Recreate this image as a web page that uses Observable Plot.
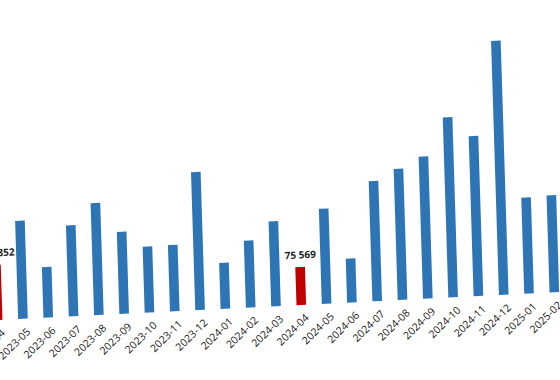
<!DOCTYPE html>
<html><head><meta charset="utf-8">
<script src="https://cdn.jsdelivr.net/npm/d3@7"></script>
<script src="https://cdn.jsdelivr.net/npm/@observablehq/plot@0.6"></script>
<style>
html,body{margin:0;padding:0;background:#fff;overflow:hidden;width:560px;height:380px;}
#wrap{position:absolute;left:-14.65px;top:0;width:582px;height:380px;transform-origin:294.65px 306px;transform:matrix(1,-0.05,0.031,1,0,0);}
#wrap svg{max-width:none !important;}
</style></head><body><div id="wrap"></div>
<script>
const months = ["2023-04","2023-05","2023-06","2023-07","2023-08","2023-09","2023-10","2023-11","2023-12",
  "2024-01","2024-02","2024-03","2024-04","2024-05","2024-06","2024-07","2024-08","2024-09","2024-10","2024-11","2024-12",
  "2025-01","2025-02"];
const values = [109852,194900,100400,181000,222800,163100,131300,132000,274500,
  91500,133300,169100,75569,189000,87500,238700,260600,282400,358000,318200,505200,
  191000,193000];
const highlighted = ["2023-04","2024-04"];

const data = months.map((m, i) => ({month: m, value: values[i], hi: highlighted.includes(m)}));
const fmt = v => d3.format(",")(v).replace(/,/g, " ");

const chart = Plot.plot({
  width: 582, height: 380,
  marginLeft: 0, marginRight: 0, marginTop: 0, marginBottom: 74,
  style: {fontFamily: "'Open Sans', 'Liberation Sans', Arial, sans-serif", background: "transparent", maxWidth: "none"},
  x: {domain: months, paddingInner: 0.62, paddingOuter: 0.31, round: false, axis: null},
  y: {domain: [0, 500000], range: [306, 306 - 251.4], axis: null},
  marks: [
    Plot.barY(data, {x: "month", y: "value", fill: d => d.hi ? "#c00000" : "#2e75b6"}),
    Plot.text(data.filter(d => d.hi), {x: "month", y: "value", text: d => fmt(d.value),
      dy: -9, lineAnchor: "bottom", fontWeight: "bold", fontSize: 10, fill: "#222"}),
    Plot.axisX({tickRotate: -42, tickSize: 0, tickPadding: 11, dx: 5, fontSize: 10.5, fill: "#1a1a1a", label: null})
  ]
});
document.getElementById("wrap").appendChild(chart);
</script></body></html>
